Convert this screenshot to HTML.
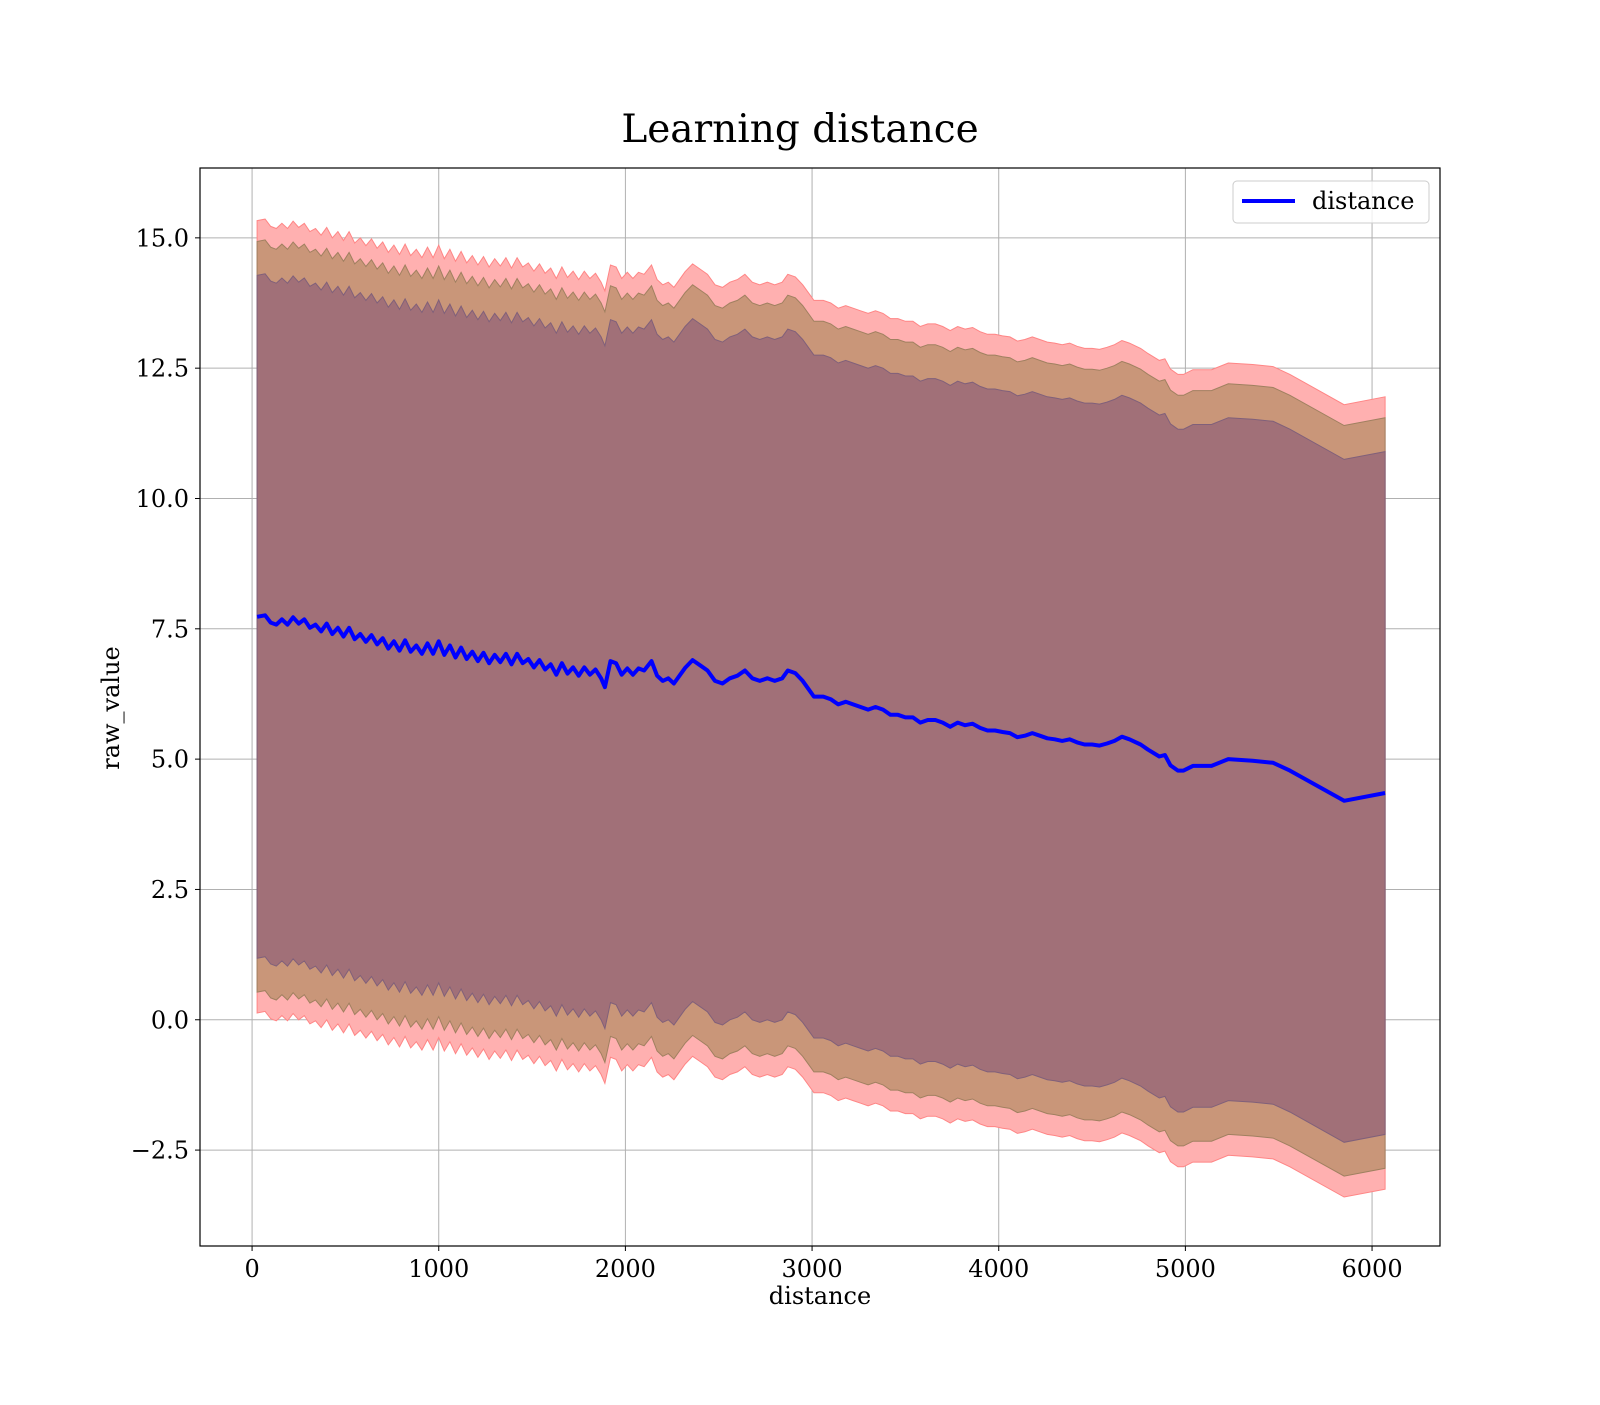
<!DOCTYPE html>
<html><head><meta charset="utf-8"><style>
body{margin:0;background:#fff}
svg text{font-family:"DejaVu Serif","Liberation Serif",serif;fill:#000}
</style></head><body>
<svg id="chart" width="1600" height="1400" xmlns="http://www.w3.org/2000/svg">
<rect width="1600" height="1400" fill="#fff"/>
<text x="800" y="142" font-size="39" text-anchor="middle">Learning distance</text>
<g id="grid"></g>
<g id="bands"></g>
<g id="line"></g>
<rect x="200" y="168" width="1240" height="1078" fill="none" stroke="#000" stroke-width="1.2"/>
<g id="ticks"></g>
<text x="820" y="1304" font-size="24" text-anchor="middle">distance</text>
<text x="0" y="0" font-size="24" text-anchor="middle" transform="translate(119,708) rotate(-90)">raw_value</text>
<g>
<rect x="1233" y="181" width="196" height="42" rx="4" fill="#fff" fill-opacity="0.8" stroke="#ccc"/>
<line x1="1242" y1="201" x2="1295" y2="201" stroke="#0000ff" stroke-width="4"/>
<text x="1312" y="209" font-size="24">distance</text>
</g>
</svg>
<script>
const xs=[27,70,100,130,160,190,220,250,280,310,340,370,400,430,460,490,520,550,580,610,640,670,700,730,760,790,820,850,880,910,940,970,1000,1030,1060,1090,1120,1150,1180,1210,1240,1270,1300,1330,1360,1390,1420,1450,1480,1510,1540,1570,1600,1630,1660,1690,1720,1750,1780,1810,1840,1870,1890,1920,1950,1980,2010,2040,2070,2100,2140,2170,2200,2230,2260,2290,2320,2360,2400,2440,2480,2520,2560,2600,2640,2680,2720,2760,2800,2840,2870,2910,2950,2990,3010,3060,3100,3140,3180,3220,3260,3300,3340,3380,3420,3460,3500,3540,3580,3620,3660,3700,3740,3780,3820,3860,3900,3940,3980,4020,4060,4100,4140,4180,4220,4260,4300,4340,4380,4420,4460,4500,4540,4580,4620,4660,4700,4760,4800,4860,4890,4920,4960,4990,5040,5140,5230,5360,5470,5560,5850,6070];
const meanVals=[7.73,7.76,7.62,7.58,7.68,7.58,7.72,7.6,7.68,7.52,7.58,7.45,7.6,7.4,7.52,7.35,7.52,7.3,7.4,7.25,7.38,7.2,7.32,7.12,7.26,7.08,7.28,7.06,7.18,7.02,7.22,7.02,7.26,7.0,7.18,6.95,7.14,6.92,7.06,6.88,7.04,6.84,7.0,6.86,7.02,6.82,7.02,6.84,6.92,6.76,6.9,6.72,6.82,6.62,6.84,6.64,6.76,6.6,6.76,6.62,6.72,6.55,6.38,6.88,6.84,6.62,6.74,6.62,6.74,6.7,6.88,6.6,6.5,6.55,6.45,6.6,6.75,6.9,6.8,6.7,6.5,6.45,6.55,6.6,6.7,6.55,6.5,6.55,6.5,6.55,6.7,6.65,6.5,6.3,6.2,6.2,6.15,6.05,6.1,6.05,6.0,5.95,6.0,5.95,5.85,5.85,5.8,5.8,5.7,5.75,5.75,5.7,5.62,5.7,5.65,5.68,5.6,5.55,5.55,5.52,5.5,5.42,5.45,5.5,5.45,5.4,5.38,5.35,5.38,5.32,5.28,5.28,5.26,5.3,5.35,5.43,5.38,5.28,5.18,5.05,5.08,4.88,4.78,4.78,4.87,4.87,5.0,4.97,4.93,4.78,4.2,4.35];
const bandOffsets=[7.6,7.2,6.55];
const xTicks=[0,1000,2000,3000,4000,5000,6000];
const yTicks=[-2.5,0,2.5,5,7.5,10,12.5,15];
const NS='http://www.w3.org/2000/svg';
function sx(v){return 200+(v+279)*(1240/6643);}
function sy(v){return 1246-(v+4.34)*(1078/20.68);}
function mk(tag,attrs,parent){const e=document.createElementNS(NS,tag);for(const k in attrs)e.setAttribute(k,attrs[k]);parent.appendChild(e);return e;}
const grid=document.getElementById('grid'),ticks=document.getElementById('ticks');
xTicks.forEach(t=>{
 const g=mk('line',{x1:sx(t),x2:sx(t),y1:168,y2:1246,stroke:'#b0b0b0','stroke-width':1},grid);
 
 
 const tk=mk('line',{x1:sx(t),x2:sx(t),y1:1246,y2:1251,stroke:'#000','stroke-width':1},ticks);
 
 
 const tx=mk('text',{x:sx(t),y:1277,'font-size':24,'text-anchor':'middle'},ticks);
 tx.textContent=String(t);
 
 
});
yTicks.forEach(t=>{
 const g=mk('line',{x1:200,x2:1440,y1:sy(t),y2:sy(t),stroke:'#b0b0b0','stroke-width':1},grid);
 
 
 const tk=mk('line',{x1:195,x2:200,y1:sy(t),y2:sy(t),stroke:'#000','stroke-width':1},ticks);
 
 
 const tx=mk('text',{x:189,y:sy(t)+8.5,'font-size':24,'text-anchor':'end'},ticks);
 tx.textContent=(t<0?'\u2212':'')+Math.abs(t).toFixed(1);
 
 
});
const bands=document.getElementById('bands');
const fills=['#ffb0b0','#c99679','#a17078'],edges=['#ff8585','#a08060','#80607a'];
bandOffsets.forEach((o,i)=>{
 let d='M'+xs.map((x,j)=>sx(x).toFixed(1)+','+sy(meanVals[j]+o).toFixed(1)).join('L');
 for(let j=xs.length-1;j>=0;j--)d+='L'+sx(xs[j]).toFixed(1)+','+sy(meanVals[j]-o).toFixed(1);
 const p=mk('path',{d:d+'Z',fill:fills[i],stroke:edges[i],'stroke-width':1},bands);
 
 
});
const ln=mk('polyline',{points:xs.map((x,j)=>sx(x).toFixed(1)+','+sy(meanVals[j]).toFixed(1)).join(' '),fill:'none',stroke:'#0000ff','stroke-width':4,'stroke-linejoin':'round'},document.getElementById('line'));


</script>
</body></html>
